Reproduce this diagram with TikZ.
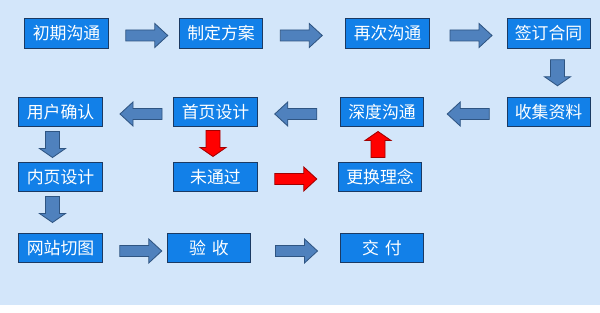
\documentclass[tikz,border=0pt]{standalone}
\usepackage{fontspec}
\newfontfamily\cjk{Noto Sans CJK SC}
\usetikzlibrary{calc}
\definecolor{bgblue}{HTML}{D3E6FA}
\definecolor{boxblue}{HTML}{1280E8}
\definecolor{boxline}{HTML}{1B3A63}
\definecolor{arrblue}{HTML}{4F81BD}
\definecolor{arrline}{HTML}{2F5582}
\definecolor{arrred}{HTML}{FF0000}
\definecolor{redline}{HTML}{A00000}
\tikzset{
  stepbox/.style={draw=boxline, fill=boxblue, text=white, line width=0.7pt,
    minimum width=2.075cm, minimum height=0.725cm, inner sep=0pt,
    font=\cjk\fontsize{12}{14}\selectfont},
  bluearr/.style={draw=arrline, fill=arrblue, line width=0.6pt},
  redarr/.style={draw=redline, fill=arrred, line width=0.6pt},
  longarr/.pic={\draw[pic actions] (-21,-5.5) -- (8,-5.5) -- (8,-12) -- (21,0) -- (8,12) -- (8,5.5) -- (-21,5.5) -- cycle;},
  shortarr/.pic={\draw[pic actions] (-13,-7) -- (4,-7) -- (4,-13) -- (13,0) -- (4,13) -- (4,7) -- (-13,7) -- cycle;}
}
\begin{document}
\begin{tikzpicture}[x=0.025cm,y=-0.025cm]
\useasboundingbox (0,0) rectangle (600,313);
\fill[bgblue] (0,0) rectangle (600,305);
% row 1
\node[stepbox] (cqgt) at (66.5,33.5) {初期沟通};
\node[stepbox] (zdfa) at (221,33.5) {制定方案};
\node[stepbox] (zcgt) at (387.5,33.5) {再次沟通};
\node[stepbox] (qdht) at (548.5,33.5) {签订合同};
% row 2
\node[stepbox] (yhqr) at (60.5,112) {用户确认};
\node[stepbox] (sysj) at (215.5,112) {首页设计};
\node[stepbox] (sdgt) at (382,112) {深度沟通};
\node[stepbox] (sjzl) at (548.5,112) {收集资料};
% row 3
\node[stepbox] (nysj) at (60.5,177) {内页设计};
\node[stepbox] (wtg) at (215.5,177) {未通过};
\node[stepbox] (hhln) at (380,177) {更换理念};
% row 4
\node[stepbox] (wzqt) at (60.5,248) {网站切图};
\node[stepbox] (ys) at (209,248) {验\hspace{0.35em}收};
\node[stepbox] (jf) at (382,248) {交\hspace{0.35em}付};
%
\pic[bluearr] at ($(cqgt.east)!.5!(zdfa.west)+(3,2)$) {longarr};
\pic[bluearr] at ($(zdfa.east)!.5!(zcgt.west)+(-3,2)$) {longarr};
\pic[bluearr] at ($(zcgt.east)!.5!(qdht.west)+(3,2)$) {longarr};
\pic[bluearr,rotate=-90] at ($(qdht.south)!.5!(sjzl.north)+(9,0)$) {shortarr};
\pic[bluearr,rotate=180] at ($(sjzl.west)!.5!(sdgt.east)+(3,2)$) {longarr};
\pic[bluearr,rotate=180] at ($(sdgt.west)!.5!(sysj.east)+(-3,2)$) {longarr};
\pic[bluearr,rotate=180] at ($(sysj.west)!.5!(yhqr.east)+(3,2)$) {longarr};
\pic[bluearr,rotate=-90] at ($(yhqr.south)!.5!(nysj.north)+(-8,0)$) {shortarr};
\pic[bluearr,rotate=-90] at ($(nysj.south)!.5!(wzqt.north)+(-8,-3)$) {shortarr};
\pic[bluearr] at ($(wzqt.east)!.5!(ys.west)+(6,3)$) {longarr};
\pic[bluearr] at ($(ys.east)!.5!(jf.west)+(1,3)$) {longarr};
%
\pic[redarr,rotate=-90] at ($(sysj.south)!.5!(wtg.north)+(-2.5,-1)$) {shortarr};
\pic[redarr] at ($(wtg.east)!.5!(hhln.west)+(-2,2)$) {longarr};
\pic[redarr,rotate=90] at ($(hhln.north)!.5!(sdgt.south)+(-3,0)$) {shortarr};
\end{tikzpicture}
\end{document}
